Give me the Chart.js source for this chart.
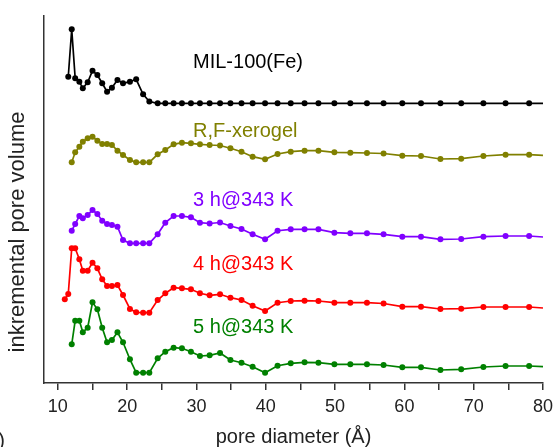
<!DOCTYPE html>
<html>
<head>
<meta charset="utf-8">
<script src="https://cdn.jsdelivr.net/npm/chart.js@4.4.0/dist/chart.umd.min.js"></script>
<style>
    body { margin: 0; background: #fff; }
    .wrap { width: 559px; height: 447px; position: relative; }
</style>
</head>
<body>
<div class="wrap"><canvas class="js-chart"></canvas></div>
<script>
const ctx = document.querySelector('.js-chart').getContext('2d');
const FONT = '"Liberation Sans", Arial, sans-serif';

// pore diameters (Å), shared by the samples
const X_LEAD = [11.0, 11.5];
const X_COMMON = [12.0, 12.5, 13.1, 13.6, 14.3, 15.0, 15.7, 16.4, 17.1, 17.8, 18.6, 19.4, 20.4, 21.3, 22.3, 23.2,
    24.4, 25.5, 26.7, 27.9, 29.2, 30.5, 31.9, 33.4, 34.9, 36.5, 38.1, 39.9, 41.7, 43.6, 45.6, 47.6, 49.9,
    52.2, 54.6, 57.0, 59.7, 62.4, 65.2, 68.2, 71.4, 74.6, 78.0, 80.0];
const X_TICKS = [10, 15, 20, 25, 30, 35, 40, 45, 50, 55, 60, 65, 70, 75, 80];

// incremental pore volume, stacked with offsets (arbitrary units)
const MIL = [306.3, 353.7, 304.7, 301.3, 294.7, 300.7, 312.3, 308, 299.7, 291.3, 295.3, 303, 299.7, 301.3, 303.7,
    288.7, 281.5, 279.7, 279.7, 279.7, 279.7, 279.7, 279.7, 279.7, 279.7, 279.7, 279.7, 279.7, 279.7, 279.7,
    279.7, 279.7, 279.7, 279.7, 279.7, 279.7, 279.7, 279.7, 279.7, 279.7, 279.7, 279.7, 279.7, 279.7, 279.7];
const XEROGEL = [220.7, 230.7, 236.3, 241.3, 244.7, 246.3, 242.3, 239, 239, 238, 232.3, 228, 223, 220.7, 220.7,
    220.7, 228.7, 233, 238.7, 240.3, 239.7, 238.7, 238, 237.5, 234.7, 231.3, 226.3, 223.7, 229, 231.3, 232.3,
    232.3, 230.7, 230.3, 230, 229.5, 227.3, 227, 224, 224.3, 227, 228.3, 228.3, 227.7];
const H3 = [152.3, 159, 167, 164.7, 168, 173, 169, 162.3, 159, 158, 156.3, 143, 139.7, 139.7, 139.7, 139.7,
    148.7, 160.3, 167, 167, 165.7, 160.3, 159.5, 160.5, 157, 154, 148.7, 143.7, 152.3, 153.7, 153.7, 153.7,
    150.3, 149.7, 149.7, 148.7, 146.3, 146.3, 143.7, 144, 146.3, 147, 147, 146];
const H4 = [83.7, 89, 134.7, 134.7, 123.7, 112.3, 112.3, 120.3, 114.7, 103.7, 97, 97, 98, 88, 74, 70.7, 70.3, 70.3,
    83, 89.7, 95.3, 94.7, 93.7, 89.7, 87.7, 88.7, 85.3, 83, 77.3, 72, 80.3, 82, 82.3, 82, 80.3, 80.3, 80.3,
    79.5, 76.3, 76.3, 74, 74.3, 76, 76, 76, 75];
const H5 = [38.7, 62.3, 62.3, 50.7, 55.3, 80.7, 73.7, 55.3, 40.7, 43, 50.7, 40.7, 23.7, 10.3, 10.3, 10.3, 24.7,
    31.3, 35.3, 34.7, 31.3, 27, 27.7, 30, 23, 20.3, 16.3, 10.3, 17.3, 19.7, 20.7, 20.3, 18.7, 18.7, 18.7, 18,
    15.7, 15.7, 13, 13.7, 16, 17, 17, 16.3];

const NAMES = ['MIL-100(Fe)', 'R,F-xerogel', '3 h@343 K', '4 h@343 K', '5 h@343 K'];
const COLORS = ['#000000', '#808000', '#8000ff', '#ff0000', '#008000'];
const LABEL_Y = [321, 252, 183, 119, 56];

function toPoints(xs, ys) {
    return ys.map((y, i) => ({ x: xs[i], y }));
}

function getDatasets() {
    const series = [
        toPoints(X_LEAD.slice(1).concat(X_COMMON), MIL),
        toPoints(X_COMMON, XEROGEL),
        toPoints(X_COMMON, H3),
        toPoints(X_LEAD.concat(X_COMMON), H4),
        toPoints(X_COMMON, H5),
    ];
    return series.map((data, i) => ({
        label: NAMES[i],
        data,
        borderColor: COLORS[i],
        backgroundColor: COLORS[i],
        borderWidth: 1.7,
        pointRadius: c => (c.raw && c.raw.x >= 80 ? 0 : 3),
        pointBorderWidth: 0,
        tension: 0,
    }));
}

const labelsPlugin = {
    id: 'seriesLabels',
    afterDatasetsDraw(chart) {
        const { ctx: c, scales: { x, y } } = chart;
        c.save();
        c.font = '20px ' + FONT;
        c.textBaseline = 'middle';
        c.textAlign = 'left';
        NAMES.forEach((name, i) => {
            c.fillStyle = COLORS[i];
            c.fillText(name, x.getPixelForValue(29.5), y.getPixelForValue(LABEL_Y[i]));
        });
        // y axis title, sits a bit below the middle of the axis
        c.fillStyle = '#222';
        c.font = '22px ' + FONT;
        c.translate(18, y.getPixelForValue(151));
        c.rotate(-Math.PI / 2);
        c.textAlign = 'center';
        c.fillText('inkremental pore volume', 0, 0);
        c.restore();
        // cut panel letter at the corner
        c.save();
        c.font = '20px ' + FONT;
        c.fillStyle = '#222';
        c.textAlign = 'right';
        c.textBaseline = 'middle';
        c.fillText('(b)', 5, 441);
        c.restore();
    }
};

function drawChart() {
    new Chart(ctx, {
        type: 'line',
        data: { datasets: getDatasets() },
        plugins: [labelsPlugin],
        options: {
            responsive: true,
            maintainAspectRatio: false,
            animation: false,
            layout: { padding: { top: 16, right: 14, left: 0, bottom: 0 } },
            plugins: { legend: { display: false }, tooltip: { enabled: false } },
            scales: {
                x: {
                    type: 'linear',
                    min: 8,
                    max: 80,
                    afterBuildTicks(scale) {
                        scale.ticks = X_TICKS.map(value => ({ value }));
                    },
                    afterFit(scale) { scale.height = 64; },
                    ticks: {
                        autoSkip: false,
                        maxRotation: 0,
                        padding: 6,
                        color: '#222',
                        font: { family: FONT, size: 18 },
                        callback(value) {
                            return value % 10 === 0 ? value : '';
                        }
                    },
                    grid: { drawOnChartArea: false, tickLength: 7, color: '#333', lineWidth: 1.5 },
                    border: { color: '#333', width: 1.5 },
                    title: {
                        display: true,
                        text: 'pore diameter (Å)',
                        color: '#222',
                        padding: 0,
                        font: { family: FONT, size: 20, lineHeight: 1 }
                    }
                },
                y: {
                    min: 0,
                    max: 367,
                    afterFit(scale) { scale.width = 44; },
                    ticks: { display: false },
                    grid: { drawOnChartArea: false, drawTicks: false },
                    border: { color: '#333', width: 1.5 }
                }
            }
        }
    });
}

drawChart();
</script>
</body>
</html>
